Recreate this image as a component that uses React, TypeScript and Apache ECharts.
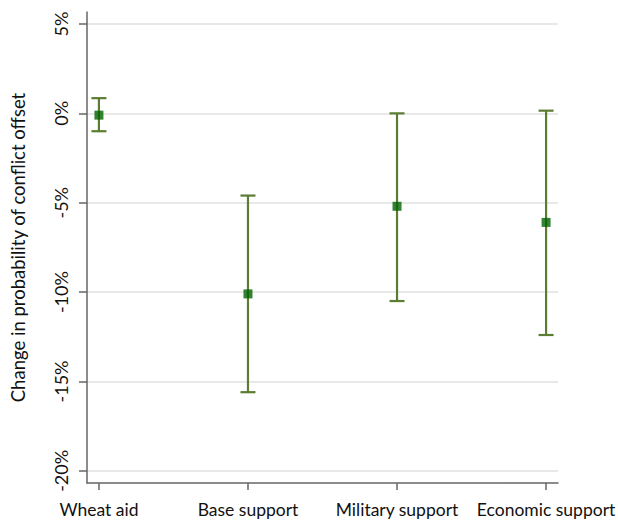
import React, { useEffect, useRef } from "react";
import * as echarts from "echarts";

const categories = ["Wheat aid", "Base support", "Military support", "Economic support"];
const positions = [1, 2, 3, 4];
const estimates = [-0.1, -10.1, -5.2, -6.1];
const lower = [-1.0, -15.6, -10.5, -12.4];
const upper = [0.85, -4.6, 0.0, 0.15];
const yTicks = [-20, -15, -10, -5, 0, 5];
const yTitle = "Change in probability of conflict offset";

const FONT = "Lato";
const BAR = "#5b7d32";
const PT = "#006400";

export default function App() {
  const ref = useRef<HTMLDivElement>(null);
  useEffect(() => {
    document.body.style.margin = "0";
    document.body.style.overflow = "hidden";
    const chart = echarts.init(ref.current!, null, { renderer: "svg" });
    const barData = positions.map((p, i) => [p, lower[i], upper[i]]);
    const ptData = positions.map((p, i) => [p, estimates[i]]);
    chart.setOption({
      animation: false,
      grid: { left: 87, right: 60, top: 12, bottom: 40, containLabel: false, outerBoundsMode: "none" },
      xAxis: {
        type: "value",
        min: 0.92,
        max: 4.08,
        splitLine: { show: false },
        axisLine: { show: true, onZero: false, lineStyle: { color: "#666", width: 1.5 } },
        axisTick: { show: true, customValues: positions, length: 7, lineStyle: { color: "#666", width: 1.5 } },
        axisLabel: {
          customValues: positions,
          formatter: (v: number) => categories[Math.round(v) - 1] ?? "",
          color: "#111",
          fontFamily: FONT,
          fontSize: 17.5,
          margin: 17,
          overflow: "none",
          hideOverlap: false,
        },
      },
      yAxis: {
        type: "value",
        min: -20.68,
        max: 5.67,
        name: yTitle,
        nameLocation: "middle",
        nameGap: 60,
        nameTextStyle: { color: "#111", fontFamily: FONT, fontSize: 18.5 },
        splitLine: { show: false },
        axisLine: { show: true, onZero: false, lineStyle: { color: "#666", width: 1.5 } },
        axisTick: { show: true, customValues: yTicks, length: 8, lineStyle: { color: "#666", width: 1.5 } },
        axisLabel: {
          customValues: yTicks,
          rotate: 90,
          formatter: (v: number) => `${Math.round(v)}%`,
          color: "#111",
          fontFamily: FONT,
          fontSize: 18,
          margin: 17,
        },
      },
      series: [
        {
          type: "custom",
          data: barData,
          z: 2,
          renderItem: (params: any, api: any) => {
            const x = api.value(0);
            const lo = api.coord([x, api.value(1)]);
            const hi = api.coord([x, api.value(2)]);
            const half = 7.5;
            const style = { stroke: BAR, lineWidth: 2.2 };
            return {
              type: "group",
              children: [
                { type: "line", shape: { x1: lo[0], y1: lo[1], x2: hi[0], y2: hi[1] }, style },
                { type: "line", shape: { x1: lo[0] - half, y1: lo[1], x2: lo[0] + half, y2: lo[1] }, style },
                { type: "line", shape: { x1: hi[0] - half, y1: hi[1], x2: hi[0] + half, y2: hi[1] }, style },
              ],
            };
          },
          markLine: {
            silent: true,
            symbol: "none",
            label: { show: false },
            lineStyle: { color: "#e0e0e0", width: 1.5, type: "solid" },
            data: yTicks.map((v) => ({ yAxis: v })),
            z: 0,
          },
        },
        {
          type: "scatter",
          data: ptData,
          symbol: "rect",
          symbolSize: 9,
          itemStyle: { color: PT },
          z: 3,
        },
      ],
    });
    return () => chart.dispose();
  }, []);
  return <div ref={ref} style={{ width: 618, height: 523 }} />;
}
